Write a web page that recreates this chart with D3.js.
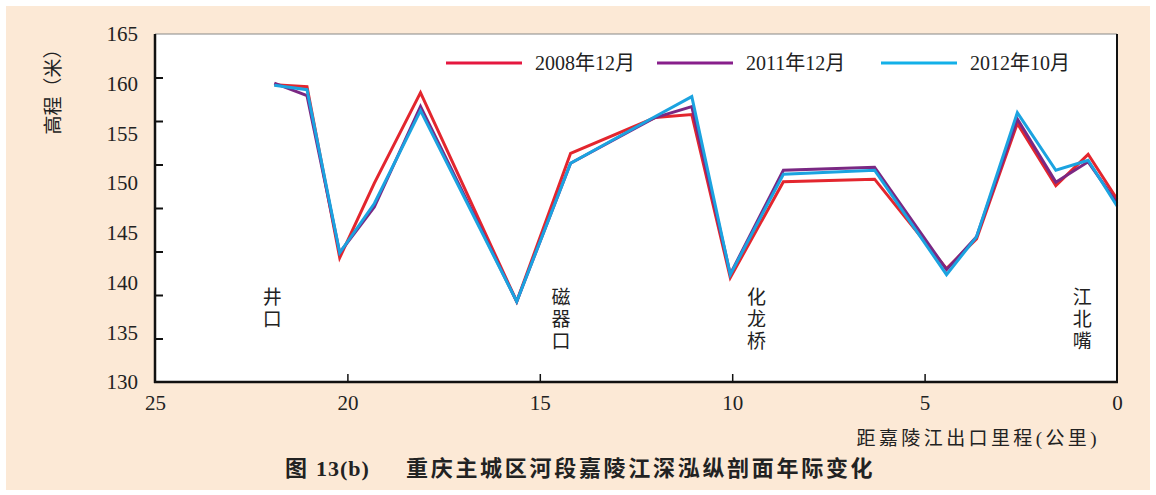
<!DOCTYPE html>
<html><head><meta charset="utf-8">
<script src="https://cdn.jsdelivr.net/npm/d3@7"></script>
<style>
html,body{margin:0;padding:0;background:#fff;}
svg{display:block;}
text{font-family:"Liberation Serif","Noto Sans CJK SC",serif;fill:#222;}
</style></head>
<body><svg id="c" width="1156" height="495"></svg>
<script>
// ---- data ----
const distanceKm = [21.9, 21.05, 20.2, 19.3, 18.1, 15.6, 14.2, 12.0, 11.05, 10.05, 8.67, 6.3, 4.43, 3.65, 2.59, 1.59, 0.75, 0];
const elev2008 = [159.9, 159.7, 142.5, 150.0, 159.1, 138.1, 153.0, 156.6, 156.9, 140.5, 150.15, 150.4, 141.4, 144.4, 156.0, 149.75, 152.9, 148.4];
const elev2011 = [160.05, 158.8, 143.0, 147.6, 157.7, 138.1, 152.0, 156.6, 157.7, 140.85, 151.3, 151.6, 141.3, 144.6, 156.45, 150.1, 152.15, 148.0];
const elev2012 = [159.85, 159.4, 143.0, 147.95, 157.3, 138.1, 152.0, 156.7, 158.7, 140.8, 150.9, 151.3, 140.8, 144.6, 157.1, 151.3, 152.3, 147.7];
const seriesNames = ["2008年12月", "2011年12月", "2012年10月"];
const seriesColors = ["#e3262e", "#7a2883", "#1ba3e0"];
const legendColors = ["#e5173f", "#881f8b", "#13b0e8"];
const xTickLabels = [25, 20, 15, 10, 5, 0];
const yTickLabels = [165, 160, 155, 150, 145, 140, 135, 130];
const places = [
  {name: "井口", km: 21.95},
  {name: "磁器口", km: 14.45},
  {name: "化龙桥", km: 9.37},
  {name: "江北嘴", km: 0.9}
];
const xAxisTitle = "距嘉陵江出口里程(公里)";
const yAxisTitle = "高程（米）";
const titleFig = "图";
const titleNum = "13(b)";
const titleText = "重庆主城区河段嘉陵江深泓纵剖面年际变化";

// ---- layout ----
const svg = d3.select("#c");
const L = 155, R = 1117, T = 34, B = 382;
svg.append("rect").attr("x", 6).attr("y", 6).attr("width", 1144).attr("height", 484).attr("fill", "#fce9d6");
svg.append("rect").attr("x", L).attr("y", T).attr("width", R - L).attr("height", B - T).attr("fill", "#fff");

const x = d3.scaleLinear().domain([25, 0]).range([L, R]);
const y = d3.scaleLinear().domain([130, 165]).range([B, T]);

// top border
svg.append("line").attr("x1", L).attr("x2", R).attr("y1", T).attr("y2", T).attr("stroke", "#888").attr("stroke-width", 1);

// lines
const series = [elev2008, elev2011, elev2012];
const line = d3.line().x(d => x(d[0])).y(d => y(d[1]));
series.forEach((vals, i) => {
  svg.append("path")
    .datum(distanceKm.map((k, j) => [k, vals[j]]))
    .attr("d", line)
    .attr("fill", "none")
    .attr("stroke", seriesColors[i])
    .attr("stroke-width", 3)
    .attr("stroke-linejoin", "miter");
});

// y axis labels
const yLab = svg.append("g").attr("transform", `translate(${L},0)`)
  .call(d3.axisLeft(y).tickValues(yTickLabels).tickSize(0).tickPadding(17).tickFormat(d3.format("d")));
yLab.select(".domain").remove();
yLab.selectAll("text").attr("font-size", 21).attr("font-family", "Liberation Serif").attr("fill", "#222");

// y axis inward tick marks (8 divisions as in original)
const yMarks = d3.range(1, 8).map(i => 130 + i * 35 / 8);
const yTk = svg.append("g").attr("transform", `translate(${L},0)`)
  .call(d3.axisRight(y).tickValues(yMarks).tickSize(8).tickFormat(""));
yTk.select(".domain").remove();
yTk.selectAll("line").attr("stroke", "#111").attr("stroke-width", 2);

// x axis labels
const xLab = svg.append("g").attr("transform", `translate(0,${B})`)
  .call(d3.axisBottom(x).tickValues(xTickLabels).tickSize(0).tickPadding(13).tickFormat(d3.format("d")));
xLab.select(".domain").remove();
xLab.selectAll("text").attr("font-size", 21).attr("font-family", "Liberation Serif").attr("fill", "#222");

// x inward ticks
const xTk = svg.append("g").attr("transform", `translate(0,${B})`)
  .call(d3.axisTop(x).tickValues(xTickLabels.filter(v => v !== 25 && v !== 0)).tickSize(8).tickFormat(""));
xTk.select(".domain").remove();
xTk.selectAll("line").attr("stroke", "#111").attr("stroke-width", 1.5);

// axis frame lines
svg.append("line").attr("x1", L).attr("x2", L).attr("y1", T).attr("y2", B + 1).attr("stroke", "#111").attr("stroke-width", 2.5);
svg.append("line").attr("x1", L - 1).attr("x2", R + 1).attr("y1", B).attr("y2", B).attr("stroke", "#111").attr("stroke-width", 2.5);
svg.append("line").attr("x1", R).attr("x2", R).attr("y1", T).attr("y2", B).attr("stroke", "#111").attr("stroke-width", 2);

// place labels (vertical)
places.forEach(p => {
  const t = svg.append("text").attr("x", x(p.km)).attr("y", 304)
    .attr("text-anchor", "middle").attr("font-size", 19)
    .attr("font-family", "Noto Sans CJK SC");
  Array.from(p.name).forEach((ch, i) => {
    t.append("tspan").attr("x", x(p.km)).attr("dy", i === 0 ? 0 : 22).text(ch);
  });
});

// legend
const legX = [446, 657, 881];
seriesNames.forEach((n, i) => {
  svg.append("line").attr("x1", legX[i]).attr("x2", legX[i] + 76).attr("y1", 63).attr("y2", 63)
    .attr("stroke", legendColors[i]).attr("stroke-width", 3);
  svg.append("text").attr("x", legX[i] + 89).attr("y", 70).attr("font-size", 20).text(n);
});

// axis titles
svg.append("text").attr("x", 1100).attr("y", 445).attr("text-anchor", "end")
  .attr("font-size", 19).attr("letter-spacing", 3.4).attr("font-family", "Noto Sans CJK SC").text(xAxisTitle);
svg.append("text").attr("transform", "translate(60,87) rotate(-90)").attr("text-anchor", "middle")
  .attr("font-size", 19).attr("font-family", "Noto Sans CJK SC").text(yAxisTitle);

// chart title
svg.append("text").attr("x", 285).attr("y", 476).attr("font-size", 22).attr("font-weight", "bold").text(titleFig);
svg.append("text").attr("x", 316).attr("y", 476).attr("font-size", 22).attr("font-weight", "bold").attr("letter-spacing", 1).text(titleNum);
svg.append("text").attr("x", 406).attr("y", 476).attr("font-size", 22).attr("font-weight", "bold")
  .attr("letter-spacing", 2.7).text(titleText);
</script>
</body></html>
